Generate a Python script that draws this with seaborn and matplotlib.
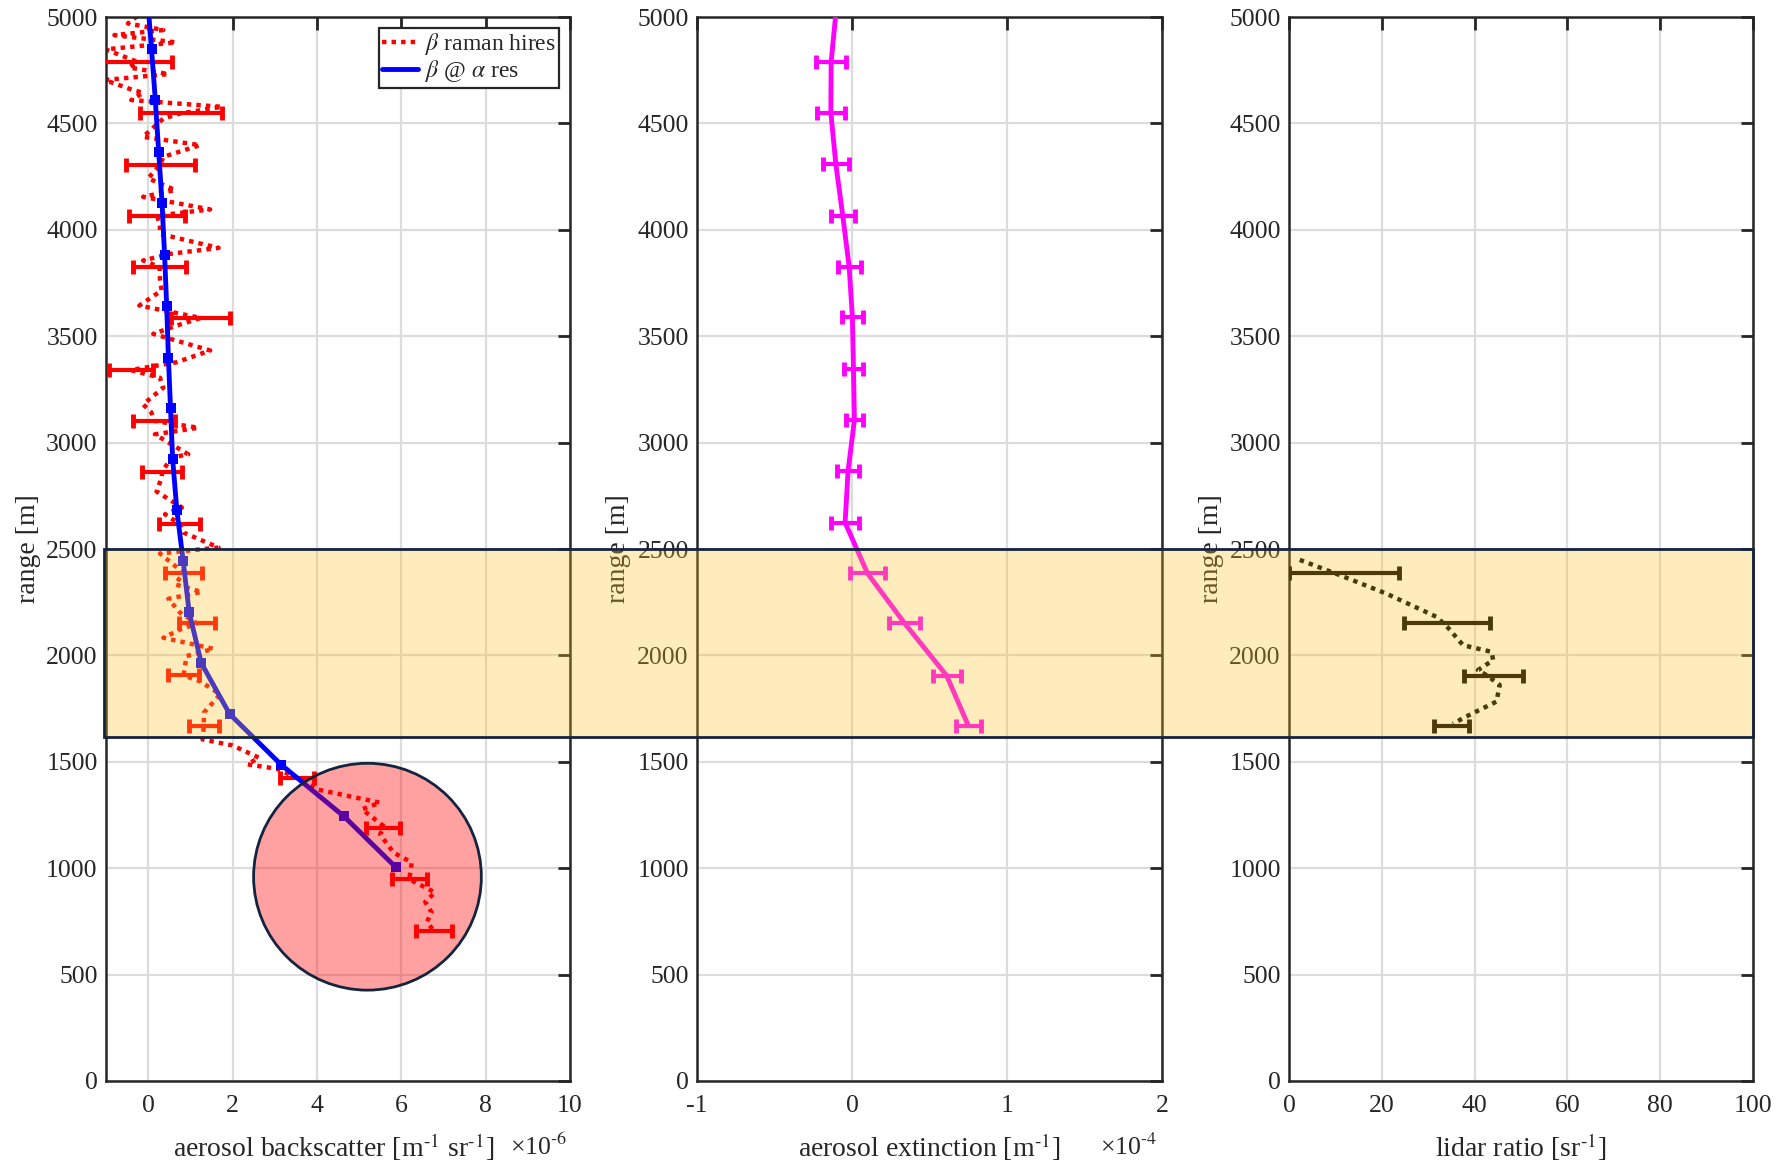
import numpy as np
import pandas as pd
import matplotlib
matplotlib.use("Agg")
import matplotlib.pyplot as plt
import matplotlib.transforms as mtransforms
from matplotlib.patches import Rectangle, Ellipse
from matplotlib.lines import Line2D
import seaborn as sns

# ---------------- data ----------------
# high-resolution Raman backscatter profile (x in 1e-6 m^-1 sr^-1, height in m)
raman_h = [5004, 4970, 4939, 4915, 4881, 4848, 4790, 4763, 4732, 4704, 4657, 4644, 4610,
           4578, 4547, 4523, 4437, 4398, 4343, 4307, 4242, 4187, 4155, 4096, 4067, 4020,
           3981, 3915, 3887, 3856, 3825, 3770, 3715, 3644, 3586, 3550, 3511, 3433, 3378,
           3341, 3305, 3258, 3180, 3141, 3102, 3070, 3039, 2945, 2930, 2864, 2836, 2770,
           2695, 2663, 2619, 2577, 2507, 2479, 2388, 2334, 2298, 2266, 2200, 2150, 2122,
           2083, 2031, 1997, 1906, 1879, 1817, 1731, 1668, 1605, 1577, 1519, 1488, 1467,
           1425, 1370, 1308, 1277, 1198, 1187, 1159, 1073, 1027, 948, 886, 842, 792, 748, 706]
raman_x = [-0.26, -0.48, 0.36, -0.80, 0.66, -1.01, -0.26, -0.45, 0.48, -1.03, -0.36, -0.12, -0.40,
           1.75, 0.77, 0.36, -0.12, 1.23, 0.36, 0.29, 0.00, 0.64, -0.12, 1.47, 0.21, 0.28,
           0.28, 1.67, 0.52, -0.12, 0.27, 0.28, 0.32, -0.21, 1.25, 0.68, 0.12, 1.47, 0.68,
           -0.41, 0.28, 0.36, -0.12, 0.08, 0.14, 1.19, 0.16, 0.95, 0.56, 0.33, 0.32, 0.20,
           0.80, 0.40, 0.74, 0.84, 1.67, 0.28, 0.84, 0.64, 1.27, 0.48, 0.76, 1.16, 0.76,
           0.36, 1.55, 0.91, 0.84, 1.23, 1.71, 1.32, 1.32, 1.29, 2.00, 2.63, 2.35, 3.06,
           3.53, 4.01, 5.50, 5.07, 5.58, 5.57, 5.50, 5.82, 6.25, 6.19, 6.80, 6.57, 6.72, 6.61, 6.77]

# error bars of the Raman profile
raman_eb_h = [4790, 4547, 4307, 4067, 3825, 3586, 3341, 3102, 2864, 2619, 2388, 2150, 1906,
              1668, 1425, 1187, 948, 706]
raman_eb_x = [-0.26, 0.77, 0.29, 0.21, 0.27, 1.25, -0.41, 0.14, 0.33, 0.74, 0.84, 1.16, 0.84,
              1.32, 3.53, 5.57, 6.19, 6.77]
raman_eb_err = [0.82, 0.97, 0.82, 0.66, 0.63, 0.70, 0.53, 0.50, 0.47, 0.48, 0.43, 0.43, 0.36,
                0.35, 0.40, 0.41, 0.41, 0.43]

# backscatter at extinction resolution
beta_h = [5000, 4850, 4610, 4365, 4125, 3880, 3640, 3400, 3164, 2925, 2683, 2445, 2206,
          1964, 1725, 1487, 1244, 1005]
beta_x = [0.02, 0.08, 0.17, 0.25, 0.33, 0.39, 0.44, 0.48, 0.53, 0.58, 0.68, 0.83, 0.97,
          1.26, 1.93, 3.15, 4.64, 5.87]

# aerosol extinction (x in 1e-4 m^-1)
ext_h = [5000, 4790, 4550, 4310, 4065, 3827, 3588, 3345, 3106, 2867, 2624, 2385, 2150, 1905, 1670]
ext_x = [-0.107, -0.135, -0.137, -0.105, -0.06, -0.019, 0.002, 0.009, 0.015, -0.026, -0.045,
         0.10, 0.34, 0.61, 0.75]
ext_err = [0.0, 0.096, 0.09, 0.082, 0.076, 0.074, 0.07, 0.064, 0.056, 0.072, 0.092,
           0.113, 0.10, 0.09, 0.08]

# lidar ratio (sr)
lr_h = [2449, 2380, 2290, 2181, 2129, 2048, 2017, 1978, 1931, 1908, 1861, 1783, 1713, 1679]
lr_x = [2.3, 10.6, 21.0, 31.8, 34.3, 37.5, 43.6, 44.0, 40.7, 42.5, 45.4, 44.7, 38.2, 35.3]
lr_eb_h = [2385, 2150, 1905, 1670]
lr_eb_x = [11.8, 34.0, 44.1, 35.0]
lr_eb_err = [11.8, 9.2, 6.4, 3.8]

# highlighted layer and region
layer_bottom, layer_top = 1617, 2500
circle_center = (5.2, 960)
circle_w, circle_h = 5.4, 1066

# ---------------- style ----------------
sns.set_theme(style="white")
plt.rcParams["font.family"] = ["Liberation Serif", "DejaVu Serif"]
plt.rcParams["mathtext.fontset"] = "stix"
plt.rcParams["axes.unicode_minus"] = False

TXT = "#262626"
FS = 18.5
LFS = 20
dotted = (0, (1, 1.15))
SUP1 = "$^{\\text{-1}}$"

fig = plt.figure(figsize=(17.81, 11.67), dpi=100)
fig.patch.set_facecolor("white")
ax1 = fig.add_axes([0.0595, 0.0737, 0.2605, 0.9117])
ax2 = fig.add_axes([0.3914, 0.0737, 0.2611, 0.9117])
ax3 = fig.add_axes([0.7238, 0.0737, 0.2605, 0.9117])


def style(ax, xlim, xticks):
    ax.set_facecolor("white")
    ax.set_xlim(*xlim)
    ax.set_ylim(0, 5000)
    ax.set_xticks(xticks)
    ax.set_yticks(np.arange(0, 5001, 500))
    ax.grid(True, color="#dcdcdc", lw=1.6)
    ax.set_axisbelow(True)
    ax.tick_params(axis="both", direction="in", top=True, right=True, length=9, width=2,
                   colors=TXT, labelsize=FS)
    ax.tick_params(axis="x", pad=10)
    ax.tick_params(axis="y", pad=6)
    for s in ax.spines.values():
        s.set_color(TXT)
        s.set_linewidth(1.8)
        s.set_visible(True)
    ax.set_ylabel("range [m]", fontsize=LFS, color=TXT, va="center")
    ax.yaxis.set_label_coords(-0.168, 0.5)
    ax.set_xlabel("")


# ---- panel 1: backscatter ----
df_r = pd.DataFrame({"x": raman_x, "h": raman_h})
sns.lineplot(data=df_r, x="x", y="h", sort=False, estimator=None, orient="y", ax=ax1,
             color="red", lw=3.2, linestyle=dotted, zorder=2)
ax1.errorbar(raman_eb_x, raman_eb_h, xerr=raman_eb_err, fmt="none", ecolor="red",
             elinewidth=3, capsize=5, capthick=3.5, zorder=3)
df_b = pd.DataFrame({"x": beta_x, "h": beta_h})
sns.lineplot(data=df_b, x="x", y="h", sort=False, estimator=None, orient="y", ax=ax1,
             color="blue", lw=3.5, marker="s", markersize=7, markeredgewidth=0,
             markevery=list(range(1, len(beta_h))), zorder=4)
ax1.add_patch(Ellipse(circle_center, circle_w, circle_h, facecolor=(1, 0, 0, 0.37),
                      edgecolor="#14233f", lw=2, zorder=6))
style(ax1, (-1, 10), np.arange(0, 11, 2))
ax1.text(0.49, -0.062, "aerosol backscatter [m" + SUP1 + " sr" + SUP1 + "]",
         transform=ax1.transAxes, ha="center", va="center", fontsize=LFS, color=TXT)
ax1.text(0.995, -0.062, "\u00d710$^{\\text{-6}}$", transform=ax1.transAxes,
         ha="right", va="center", fontsize=18.5, color=TXT)
handles = [Line2D([], [], color="red", lw=3.2, linestyle=dotted),
           Line2D([], [], color="blue", lw=3.5)]
leg = ax1.legend(handles, ["$\\beta$ raman hires", "$\\beta$ @ $\\alpha$ res"],
                 loc="upper right", fontsize=17, frameon=True, fancybox=False,
                 framealpha=1, edgecolor=TXT, handlelength=1.5, handletextpad=0.3,
                 borderpad=0.15, labelspacing=0.05, borderaxespad=0.45)
leg.get_frame().set_linewidth(1.6)
leg.set_zorder(8)

# ---- panel 2: extinction ----
df_e = pd.DataFrame({"x": ext_x, "h": ext_h})
sns.lineplot(data=df_e, x="x", y="h", sort=False, estimator=None, orient="y", ax=ax2,
             color="magenta", lw=3.5, zorder=3)
ax2.errorbar(ext_x[1:], ext_h[1:], xerr=ext_err[1:], fmt="none", ecolor="magenta",
             elinewidth=3, capsize=5, capthick=3.5, zorder=3)
style(ax2, (-1, 2), [-1, 0, 1, 2])
ax2.text(0.5, -0.062, "aerosol extinction [m" + SUP1 + "]", transform=ax2.transAxes,
         ha="center", va="center", fontsize=LFS, color=TXT)
ax2.text(0.99, -0.062, "\u00d710$^{\\text{-4}}$", transform=ax2.transAxes,
         ha="right", va="center", fontsize=18.5, color=TXT)

# ---- panel 3: lidar ratio ----
df_l = pd.DataFrame({"x": lr_x, "h": lr_h})
sns.lineplot(data=df_l, x="x", y="h", sort=False, estimator=None, orient="y", ax=ax3,
             color="black", lw=3.2, linestyle=dotted, zorder=3)
ax3.errorbar(lr_eb_x, lr_eb_h, xerr=lr_eb_err, fmt="none", ecolor="black",
             elinewidth=3, capsize=5, capthick=3.5, zorder=3)
style(ax3, (0, 100), np.arange(0, 101, 20))
ax3.text(0.5, -0.062, "lidar ratio [sr" + SUP1 + "]", transform=ax3.transAxes,
         ha="center", va="center", fontsize=LFS, color=TXT)

# ---- highlighted layer across all panels ----
trans = mtransforms.blended_transform_factory(fig.transFigure, ax1.transData)
x0 = ax1.get_position().x0 - 0.001
x1 = ax3.get_position().x1
band = Rectangle((x0, layer_bottom), x1 - x0, layer_top - layer_bottom, transform=trans,
                 facecolor=(1.0, 0.757, 0.145, 0.30), edgecolor="#14233f", lw=2,
                 zorder=20)
fig.add_artist(band)

fig.savefig("out.png", dpi=100, facecolor="white")
